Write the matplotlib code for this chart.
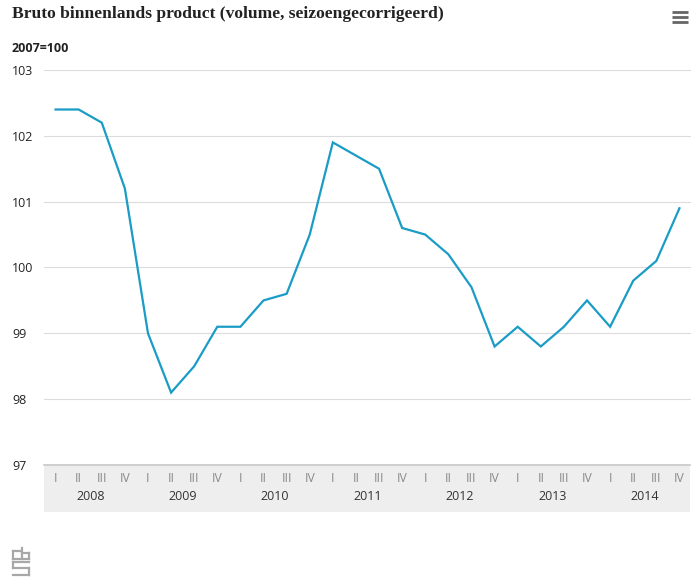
import matplotlib.pyplot as plt
from matplotlib.patches import Rectangle
from matplotlib.lines import Line2D
from matplotlib.transforms import blended_transform_factory

# ====== Data ======
years = ["2008", "2009", "2010", "2011", "2012", "2013", "2014"]
quarters = ["I", "II", "III", "IV"]
bbp = [
    102.4, 102.4, 102.2, 101.2,
    99.0, 98.1, 98.5, 99.1,
    99.1, 99.5, 99.6, 100.5,
    101.9, 101.7, 101.5, 100.6,
    100.5, 100.2, 99.7, 98.8,
    99.1, 98.8, 99.1, 99.5,
    99.1, 99.8, 100.1, 100.9,
]
y_ticks = [97, 98, 99, 100, 101, 102, 103]

W, H = 694, 586
fig = plt.figure(figsize=(W / 100, H / 100), dpi=100)
fig.patch.set_facecolor("white")


def fx(px):
    return px / W


def fy(py):
    return 1 - py / H


ax_left, ax_right, ax_top, ax_bottom = 44, 691, 70, 465
ax_h = ax_bottom - ax_top
ax_w = ax_right - ax_left
ax = fig.add_axes([fx(ax_left), fy(ax_bottom), fx(ax_w), fy(ax_top) - fy(ax_bottom)])
ax.set_facecolor("none")

x = list(range(len(bbp)))
ax.plot(x, bbp, color="#1a9cc6", linewidth=1.6, solid_joinstyle="miter", zorder=3)

ax.set_xlim(-0.5, len(bbp) - 0.5)
ax.set_ylim(97, 103)
ax.set_yticks(y_ticks)
ax.yaxis.grid(True, color="#dcdcdc", linewidth=0.8)
ax.set_axisbelow(True)
for s in ax.spines.values():
    s.set_visible(False)
ax.tick_params(axis="y", length=0, labelsize=9, labelcolor="#222222", pad=23)
for lbl in ax.get_yticklabels():
    lbl.set_fontfamily("Open Sans")
    lbl.set_horizontalalignment("left")

# quarter ticks
ax.set_xticks(x)
ax.set_xticklabels(quarters * len(years), fontfamily="Open Sans", fontsize=8.8, color="#8a8a8a")
ax.tick_params(axis="x", length=0, pad=5)

# year labels, centred between II and III
trans = blended_transform_factory(ax.transData, ax.transAxes)
for i, yr in enumerate(years):
    ax.text(i * 4 + 1.5, -(497 - ax_bottom) / ax_h, yr, transform=trans,
            ha="center", va="center", fontsize=9, color="#333333", fontfamily="Open Sans")

# grey axis band (axes coords, below the labels)
ax.add_patch(Rectangle((0, -(512 - ax_bottom) / ax_h), (690 - ax_left) / ax_w, (512 - ax_bottom) / ax_h,
                       transform=ax.transAxes, facecolor="#eeeeee", edgecolor="none",
                       clip_on=False, zorder=0))
ax.add_line(Line2D([0, (690 - ax_left) / ax_w], [0, 0], transform=ax.transAxes,
                   color="#c8c8c8", linewidth=1.2, clip_on=False, zorder=1))

# titles
fig.text(fx(12), fy(14), "Bruto binnenlands product (volume, seizoengecorrigeerd)",
         fontfamily="Liberation Serif", fontweight="bold", fontsize=12.6, color="#222222",
         ha="left", va="center")
fig.text(fx(12), fy(49), "2007=100", fontfamily="Open Sans", fontweight="bold", fontsize=9,
         color="#222222", ha="left", va="center")

# menu icon
for py in (12, 17, 22):
    fig.lines.append(Line2D([fx(672), fx(688)], [fy(py), fy(py)], transform=fig.transFigure,
                            color="#666666", linewidth=2.0, solid_capstyle="butt"))

# simple cbs logo
logo_c = "#a8a8a8"
logo_lines = [
    # c
    [(13, 551), (20, 551)], [(13, 551), (13, 559)], [(13, 559), (20, 559)],
    # b
    [(22, 548), (22, 559)], [(22, 553), (29, 553)], [(29, 553), (29, 559)], [(22, 559), (29, 559)],
    # s
    [(13, 562), (29, 562)], [(13, 562), (13, 568)], [(13, 568), (29, 568)],
    [(29, 568), (29, 575)], [(13, 575), (29, 575)],
]
for (a, b) in logo_lines:
    fig.lines.append(Line2D([fx(a[0]), fx(b[0])], [fy(a[1]), fy(b[1])], transform=fig.transFigure,
                            color=logo_c, linewidth=1.6, solid_capstyle="projecting"))

fig.savefig("out.png", dpi=100, facecolor="white")
